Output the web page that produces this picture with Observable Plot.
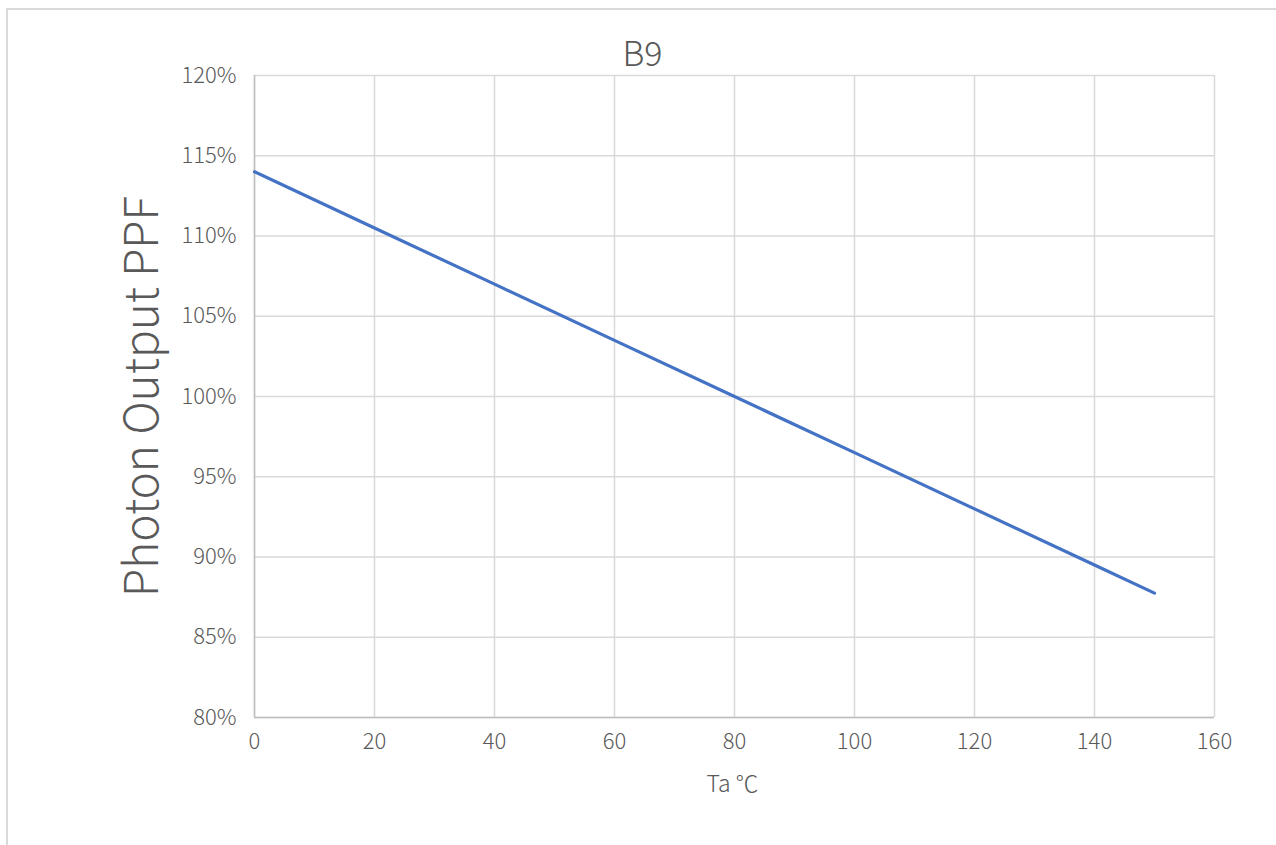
<!DOCTYPE html>
<html>
<head>
<meta charset="utf-8">
<script src="https://cdn.jsdelivr.net/npm/d3@7"></script>
<script src="https://cdn.jsdelivr.net/npm/@observablehq/plot@0.6"></script>
<style>
  html, body { margin: 0; padding: 0; background: #fff; }
  #wrap { position: relative; width: 1276px; height: 845px; overflow: hidden; }
  #border { position: absolute; left: 6px; top: 8px; width: 1290px; height: 860px;
            border-left: 2px solid #d9d9d9; border-top: 2px solid #d9d9d9; box-sizing: border-box; }
  #chart { position: absolute; left: 0; top: 0; }
</style>
</head>
<body>
<div id="wrap"><div id="border"></div><div id="chart"></div></div>
<script>
const chartTitle = "B9";
const xLabel = "Ta ℃";
const yLabel = "Photon Output PPF";
const temps = [0, 20, 40, 60, 80, 100, 120, 140, 150];
const ppf = [1.14, 1.105, 1.07, 1.035, 1.00, 0.965, 0.93, 0.895, 0.8775];
const xTicks = [0, 20, 40, 60, 80, 100, 120, 140, 160];
const yTicks = [0.80, 0.85, 0.90, 0.95, 1.00, 1.05, 1.10, 1.15, 1.20];

const data = temps.map((t, i) => ({t, v: ppf[i]}));
const font = "'Noto Sans CJK SC', 'Noto Sans', sans-serif";

const chart = Plot.plot({
  width: 1276,
  height: 845,
  marginLeft: 254,
  marginRight: 62,
  marginTop: 75,
  marginBottom: 128,
  style: {fontFamily: font, background: "transparent", color: "#595959"},
  x: {domain: [0, 160], ticks: xTicks},
  y: {domain: [0.8, 1.2], ticks: yTicks},
  marks: [
    Plot.gridX(xTicks, {stroke: "#d9d9d9", strokeOpacity: 1, strokeWidth: 1.5}),
    Plot.gridY(yTicks, {stroke: "#d9d9d9", strokeOpacity: 1, strokeWidth: 1.5}),
    Plot.ruleX([0], {stroke: "#bfbfbf", strokeWidth: 1.5}),
    Plot.ruleY([0.8], {stroke: "#bfbfbf", strokeWidth: 1.5}),
    Plot.axisX(xTicks, {tickSize: 0, tickPadding: 16, fontSize: 22, fontWeight: 300, label: null, fill: "#595959"}),
    Plot.axisY(yTicks, {tickSize: 0, tickPadding: 18, fontSize: 22, fontWeight: 300, label: null, fill: "#595959",
      tickFormat: d => Math.round(d * 100) + "%"}),
    Plot.line(data, {x: "t", y: "v", stroke: "#4472c4", strokeWidth: 3.2, strokeLinecap: "round"}),
    Plot.text([yLabel], {frameAnchor: "left", textAnchor: "middle", lineAnchor: "middle", rotate: -90, dx: -111, fontSize: 46, fontWeight: 300, fill: "#595959"}),
    Plot.text([xLabel], {frameAnchor: "bottom", dy: 74, dx: -2, fontSize: 23, fontWeight: 300, fill: "#595959"}),
    Plot.text([chartTitle], {frameAnchor: "top", lineAnchor: "bottom", dy: -10, dx: -92, fontSize: 34, fontWeight: 300, fill: "#595959"})
  ]
});
document.getElementById("chart").appendChild(chart);
</script>
</body>
</html>
